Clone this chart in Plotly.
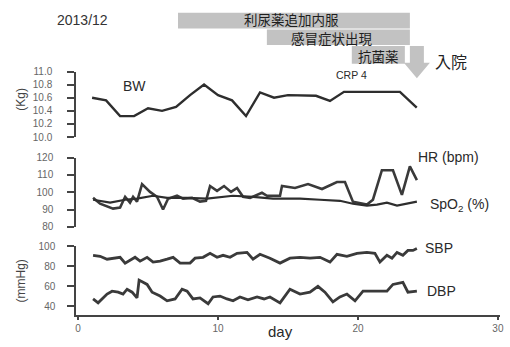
import plotly.graph_objects as go

# ---------------- data ----------------
bw_day = [1, 2, 3, 4, 5, 6, 7, 8, 9, 10, 11, 12, 13, 14, 15, 16, 17, 18, 19, 20, 21, 22, 23, 24.2]
bw_kg = [10.60, 10.56, 10.32, 10.32, 10.44, 10.40, 10.46, 10.64, 10.80, 10.64, 10.56, 10.32,
         10.68, 10.60, 10.64, 10.64, 10.63, 10.55, 10.69, 10.69, 10.69, 10.69, 10.69, 10.45]

hr_day = [1.07, 1.57, 2.5, 3.0, 3.36, 3.71, 3.93, 4.21, 4.57, 5.14, 5.64, 6.07, 6.43, 7.07, 7.5,
          8.14, 8.71, 9.14, 9.43, 9.93, 10.43, 10.93, 11.36, 11.79, 12.29, 12.79, 13.14, 13.5,
          14.43, 14.57, 15.5, 16.43, 17.43, 18.5, 19.07, 19.64, 20.64, 21.07, 21.71, 22.5,
          23.14, 23.71, 24.21]
hr_bpm = [96.8, 93.4, 90.6, 91.2, 97.4, 94.0, 97.4, 94.6, 104.7, 100.2, 97.4, 90.1, 96.3, 98.0,
          96.3, 96.8, 94.6, 95.1, 103.6, 100.8, 103.6, 100.2, 102.5, 97.4, 96.8, 98.5, 99.7, 98.0,
          98.0, 103.6, 102.5, 104.7, 101.9, 105.9, 105.9, 94.6, 92.9, 95.7, 112.7, 112.7,
          98.5, 114.9, 107.0]

spo2_day = [1.07, 2.29, 3.36, 4.21, 5.36, 6.36, 7.79, 9.21, 11.07, 12.5, 13.93, 15.86, 17.29,
            18.71, 19.64, 20.64, 21.36, 22.07, 22.79, 24.21]
spo2_pct = [95.7, 94.0, 95.7, 96.3, 98.0, 96.8, 96.8, 96.3, 98.0, 97.4, 96.3, 96.3, 95.7,
            95.1, 93.4, 92.3, 92.9, 94.0, 92.3, 94.6]

sbp_day = [1.07, 1.57, 2.07, 2.5, 3.0, 3.36, 3.71, 4.07, 4.43, 4.93, 5.36, 5.86, 6.36, 6.79,
           7.29, 8.0, 8.36, 8.93, 9.43, 9.93, 10.36, 10.86, 11.36, 12.07, 12.5, 13.0, 13.71,
           14.43, 15.14, 15.86, 16.57, 17.29, 18.0, 18.5, 19.21, 19.93, 20.64, 21.21, 21.57,
           22.07, 22.43, 22.79, 23.21, 23.57, 23.93, 24.21]
sbp_mmhg = [90.9, 89.9, 87.0, 88.0, 88.9, 83.1, 86.0, 88.9, 85.0, 88.9, 84.1, 85.0, 87.0, 88.9,
            83.1, 83.1, 88.0, 88.9, 92.9, 88.9, 90.9, 88.9, 92.9, 93.8, 87.0, 91.9, 88.0,
            83.1, 88.0, 88.9, 88.0, 88.9, 84.1, 91.9, 89.9, 92.9, 93.8, 92.9, 84.1,
            90.9, 88.0, 93.8, 90.9, 95.8, 95.8, 97.7]

dbp_day = [1.07, 1.43, 2.07, 2.43, 2.86, 3.21, 3.5, 3.86, 4.21, 4.36, 4.93, 5.29, 5.86, 6.36,
           6.93, 7.43, 7.79, 8.21, 8.71, 9.29, 9.64, 10.14, 10.64, 11.07, 11.57, 12.14, 12.79,
           13.29, 13.71, 14.43, 15.14, 15.86, 16.57, 17.14, 17.64, 18.21, 18.71, 19.21, 19.79,
           20.36, 21.36, 22.07, 22.5, 23.21, 23.57, 24.21]
dbp_mmhg = [47.1, 43.2, 52.0, 54.9, 53.9, 52.0, 56.9, 53.9, 48.1, 66.0, 61.7, 53.9, 50.0, 45.2,
            47.1, 56.9, 54.9, 47.1, 48.1, 42.3, 49.1, 50.0, 47.1, 45.2, 49.1, 46.2, 49.1,
            47.1, 49.1, 43.2, 56.9, 52.0, 53.9, 59.8, 53.9, 44.2, 49.1, 52.0, 45.2,
            54.9, 54.9, 54.9, 61.7, 63.7, 53.9, 54.9]

x_ticks = [0, 10, 20, 30]
bw_ticks = [10.0, 10.2, 10.4, 10.6, 10.8, 11.0]
hr_ticks = [80, 90, 100, 110, 120]
bp_ticks = [40, 60, 80, 100]

# events (day ranges) shown as grey bars above the chart
events = [("利尿薬追加内服", 7.14, 23.71), ("感冒症状出現", 13.49, 23.71), ("抗菌薬", 19.56, 23.35)]

# ---------------- figure ----------------
LINE = "#2e2e2e"
fig = go.Figure()
fig.add_trace(go.Scatter(x=bw_day, y=bw_kg, mode="lines", xaxis="x", yaxis="y3",
                         line=dict(color=LINE, width=2.4), hoverinfo="skip"))
fig.add_trace(go.Scatter(x=hr_day, y=hr_bpm, mode="lines", xaxis="x", yaxis="y2",
                         line=dict(color="#3a3a3a", width=2.6), hoverinfo="skip"))
fig.add_trace(go.Scatter(x=spo2_day, y=spo2_pct, mode="lines", xaxis="x", yaxis="y2",
                         line=dict(color=LINE, width=2.2), hoverinfo="skip"))
fig.add_trace(go.Scatter(x=sbp_day, y=sbp_mmhg, mode="lines", xaxis="x", yaxis="y",
                         line=dict(color="#3a3a3a", width=2.8), hoverinfo="skip"))
fig.add_trace(go.Scatter(x=dbp_day, y=dbp_mmhg, mode="lines", xaxis="x", yaxis="y",
                         line=dict(color="#3a3a3a", width=2.8), hoverinfo="skip"))

FONT = "Liberation Sans, Arial, sans-serif"
axis_common = dict(showgrid=False, zeroline=False, showline=True, linecolor="#444",
                   linewidth=1.5, ticks="outside", tickcolor="#444", tickwidth=1.5,
                   tickfont=dict(family=FONT, size=10, color="#666"))

fig.update_layout(
    width=510, height=347,
    margin=dict(l=76, r=10, t=0, b=32),
    paper_bgcolor="white", plot_bgcolor="white",
    showlegend=False,
    xaxis=dict(range=[-0.15, 30.15], tickvals=x_ticks, anchor="y", ticklen=3,
               **axis_common),
    yaxis=dict(domain=[0, 0.2225], range=[31, 100], tickvals=bp_ticks, anchor="x",
               ticklen=7, ticklabelstandoff=10, **axis_common),
    yaxis2=dict(domain=[0.2848, 0.5095], range=[80, 120], tickvals=hr_ticks, anchor="x",
                ticklen=7, ticklabelstandoff=12, **axis_common),
    yaxis3=dict(domain=[0.5759, 0.788], range=[10.0, 11.0], tickvals=bw_ticks,
                tickformat=".1f", anchor="x", ticklen=7, ticklabelstandoff=13, **axis_common),
)

shapes = []
annotations = []
box_y = [(0.9272, 0.9778), (0.8734, 0.9241), (0.8133, 0.8703)]
text_x = [15.28, 18.14, 21.49]
text_y = [0.9571, 0.8952, 0.8386]
for (label, d0, d1), (y0, y1), tx, ty in zip(events, box_y, text_x, text_y):
    shapes.append(dict(type="rect", xref="x", yref="paper", x0=d0, x1=d1, y0=y0, y1=y1,
                       fillcolor="#c2c2c2", line=dict(width=0), layer="below"))
    annotations.append(dict(text=label, xref="x", yref="paper", x=tx, y=ty, showarrow=False,
                            xanchor="center", yanchor="middle",
                            font=dict(family="Noto Sans CJK JP", size=13.5, color="#1e1e1e")))
# down arrow (admission)
shapes.append(dict(type="path", xref="x", yref="paper",
                   path="M 23.71,0.8703 L 24.71,0.8703 L 24.71,0.8165 L 25.14,0.8165 "
                        "L 24.21,0.7658 L 23.28,0.8165 L 23.71,0.8165 Z",
                   fillcolor="#c2c2c2", line=dict(width=0)))

def ann(text, x, y, xref, yref, size, color="#2a2a2a", family=FONT, angle=0):
    annotations.append(dict(text=text, x=x, y=y, xref=xref, yref=yref, showarrow=False,
                            textangle=angle, xanchor="center", yanchor="middle",
                            font=dict(family=family, size=size, color=color)))

ann("入院", 0.8839, 0.8228, "paper", "paper", 16, family="Noto Sans CJK JP", color="#222")
ann("2013/12", 0.0142, 0.9557, "paper", "paper", 14, color="#333")
ann("BW", 4.03, 10.78, "x", "y3", 14)
ann("CRP 4", 19.53, 10.94, "x", "y3", 10.5)
ann("HR (bpm)", 0.879, 0.5127, "paper", "paper", 14)
ann("SpO<sub>2</sub> (%)", 0.904, 0.3576, "paper", "paper", 14)
ann("SBP", 0.8555, 0.2184, "paper", "paper", 14)
ann("DBP", 0.8626, 0.0791, "paper", "paper", 14)
ann("day", 0.4834, -0.0538, "paper", "paper", 15)
ann("(Kg)", -0.1303, 0.6994, "paper", "paper", 12, angle=-90, color="#444")
ann("(mmHg)", -0.1303, 0.1108, "paper", "paper", 12, angle=-90, color="#444")

fig.update_layout(shapes=shapes, annotations=annotations)
fig.write_html("out.html", config={"displayModeBar": False},
               post_script="document.body.style.margin='0';")
